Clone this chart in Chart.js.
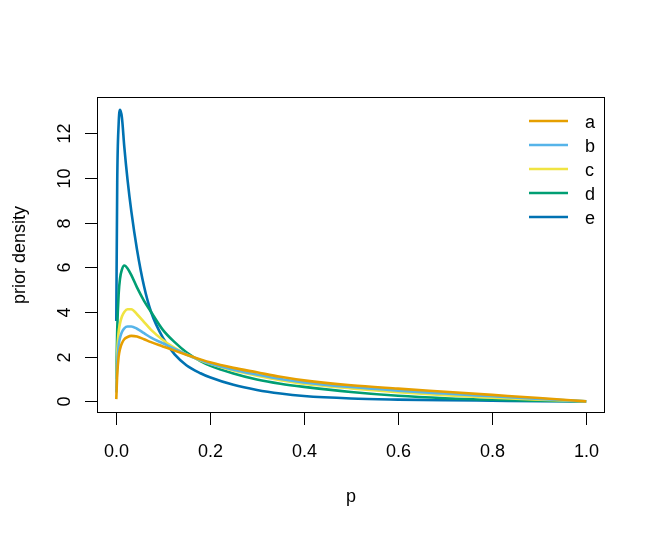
<!DOCTYPE html>
<html>
<head>
<meta charset="utf-8">
<script src="https://cdn.jsdelivr.net/npm/chart.js@4.4.1/dist/chart.umd.min.js"></script>
<style>
  html, body { margin: 0; padding: 0; background: #fff; }
  #wrap { width: 654px; height: 535px; }
</style>
</head>
<body>
<div id="wrap"><canvas id="canvas" width="654" height="535"></canvas></div>
<script>
// values
const pGrid   = [0.001, 0.003, 0.006, 0.009, 0.013, 0.018, 0.025, 0.033, 0.045, 0.06, 0.075, 0.1, 0.125, 0.15, 0.18, 0.2, 0.25, 0.3, 0.35, 0.4, 0.5, 0.6, 0.7, 0.8, 0.9, 1.0];
const seriesA = [0.1, 1.2, 2.0, 2.35, 2.6, 2.78, 2.88, 2.93, 2.9, 2.78, 2.65, 2.46, 2.27, 2.09, 1.88, 1.75, 1.5, 1.3, 1.1, 0.94, 0.72, 0.57, 0.43, 0.29, 0.15, 0];
const seriesB = [0.4, 1.7, 2.5, 2.85, 3.1, 3.27, 3.35, 3.35, 3.25, 3.05, 2.85, 2.6, 2.35, 2.1, 1.85, 1.7, 1.42, 1.2, 1.0, 0.85, 0.64, 0.48, 0.35, 0.23, 0.11, 0];
const seriesC = [0.6, 2.2, 3.1, 3.5, 3.8, 4.0, 4.12, 4.12, 3.9, 3.55, 3.2, 2.75, 2.4, 2.1, 1.83, 1.68, 1.38, 1.15, 0.95, 0.79, 0.58, 0.41, 0.28, 0.17, 0.08, 0];
const seriesD = [1.0, 3.2, 4.8, 5.5, 5.9, 6.08, 5.95, 5.65, 5.1, 4.5, 4.0, 3.2, 2.65, 2.2, 1.8, 1.6, 1.25, 0.98, 0.79, 0.65, 0.42, 0.25, 0.14, 0.07, 0.03, 0];
const seriesE = [3.6, 9.8, 12.4, 13.05, 12.7, 11.4, 9.9, 8.5, 6.8, 5.15, 4.0, 2.85, 2.1, 1.62, 1.26, 1.08, 0.74, 0.51, 0.35, 0.24, 0.13, 0.08, 0.05, 0.03, 0.01, 0];

const seriesNames  = ['a', 'b', 'c', 'd', 'e'];
const seriesValues = [seriesA, seriesB, seriesC, seriesD, seriesE];
const seriesColors = ['#E69F00', '#56B4E9', '#F0E442', '#009E73', '#0072B2'];

const xTicks = [0, 0.2, 0.4, 0.6, 0.8, 1.0];
const xTickLabels = ['0.0', '0.2', '0.4', '0.6', '0.8', '1.0'];
const yTicks = [0, 2, 4, 6, 8, 10, 12];
const xTitle = 'p';
const yTitle = 'prior density';

const font = '18px "Liberation Sans", Arial, sans-serif';

// R style box, axes, titles and legend
const rFrame = {
  id: 'rFrame',
  afterDraw(chart) {
    const { ctx, chartArea: a, scales: { x, y } } = chart;
    ctx.save();
    ctx.strokeStyle = '#000';
    ctx.fillStyle = '#000';
    ctx.lineWidth = 1;
    ctx.strokeRect(a.left + 0.5, a.top + 0.5, a.right - a.left - 1, a.bottom - a.top - 1);

    ctx.font = font;
    // x axis
    ctx.textAlign = 'center';
    ctx.textBaseline = 'alphabetic';
    xTicks.forEach((v, i) => {
      const px = Math.round(x.getPixelForValue(v)) + 0.5;
      ctx.beginPath();
      ctx.moveTo(px, a.bottom);
      ctx.lineTo(px, a.bottom + 12);
      ctx.stroke();
      ctx.fillText(xTickLabels[i], px, a.bottom + 44);
    });
    ctx.fillText(xTitle, (a.left + a.right) / 2, a.bottom + 89);

    // y axis
    yTicks.forEach(v => {
      const py = Math.round(y.getPixelForValue(v)) + 0.5;
      ctx.beginPath();
      ctx.moveTo(a.left, py);
      ctx.lineTo(a.left - 12, py);
      ctx.stroke();
      ctx.save();
      ctx.translate(a.left - 27.5, py);
      ctx.rotate(-Math.PI / 2);
      ctx.fillText(String(v), 0, 0);
      ctx.restore();
    });
    ctx.save();
    ctx.translate(a.left - 72.5, (a.top + a.bottom) / 2);
    ctx.rotate(-Math.PI / 2);
    ctx.fillText(yTitle, 0, 0);
    ctx.restore();

    // legend
    ctx.textAlign = 'left';
    seriesNames.forEach((name, i) => {
      const ly = 121 + 24 * i;
      ctx.strokeStyle = seriesColors[i];
      ctx.lineWidth = 2.6;
      ctx.beginPath();
      ctx.moveTo(529, ly);
      ctx.lineTo(568, ly);
      ctx.stroke();
      ctx.fillText(name, 585, ly + 6.5);
    });
    ctx.restore();
  }
};

const datasets = seriesNames.map((name, i) => ({
  label: name,
  data: pGrid.map((p, j) => ({ x: p, y: seriesValues[i][j] })),
  borderColor: seriesColors[i],
  borderWidth: 2.6,
  pointRadius: 0,
  fill: false,
  cubicInterpolationMode: 'monotone'
}));

const canvas = document.getElementById('canvas');
const ctx = canvas.getContext('2d');

new Chart(ctx, {
  type: 'line',
  data: { datasets },
  options: {
    responsive: false,
    animation: false,
    devicePixelRatio: 1,
    layout: { padding: { left: 97, right: 49, top: 97, bottom: 122 } },
    scales: {
      x: { type: 'linear', display: false, min: -0.04, max: 1.04 },
      y: { type: 'linear', display: false, min: -0.52, max: 13.62 }
    },
    plugins: {
      legend: { display: false },
      tooltip: { enabled: false }
    }
  },
  plugins: [rFrame]
});
</script>
</body>
</html>
